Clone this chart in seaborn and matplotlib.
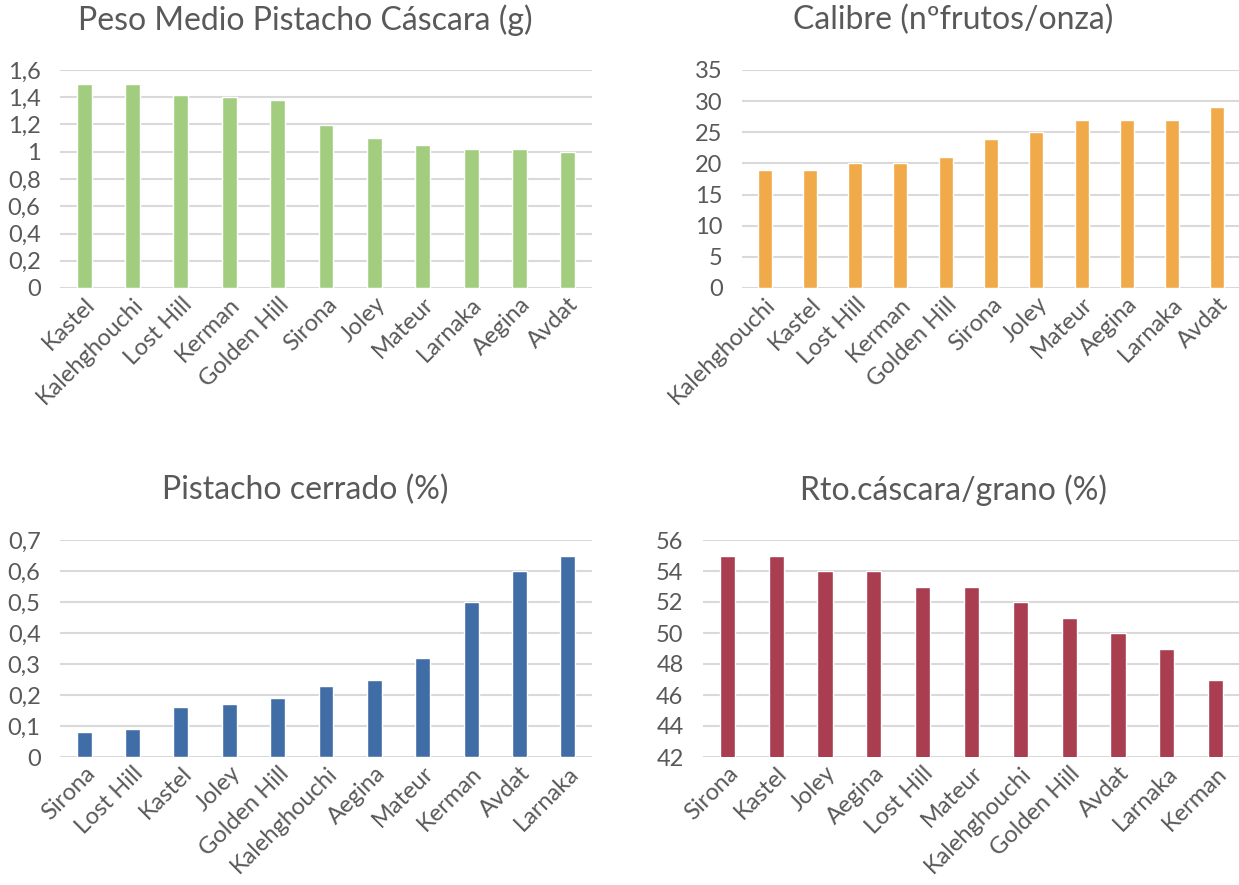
import pandas as pd
import seaborn as sns
import matplotlib.pyplot as plt
from matplotlib.ticker import FuncFormatter

# Peso medio pistacho cascara (g)
peso_cultivares = ['Kastel', 'Kalehghouchi', 'Lost Hill', 'Kerman', 'Golden Hill', 'Sirona',
                   'Joley', 'Mateur', 'Larnaka', 'Aegina', 'Avdat']
peso_valores = [1.50, 1.50, 1.42, 1.40, 1.38, 1.20, 1.10, 1.05, 1.02, 1.02, 1.00]

# Calibre (nº frutos/onza)
calibre_cultivares = ['Kalehghouchi', 'Kastel', 'Lost Hill', 'Kerman', 'Golden Hill', 'Sirona',
                      'Joley', 'Mateur', 'Aegina', 'Larnaka', 'Avdat']
calibre_valores = [19, 19, 20, 20, 21, 24, 25, 27, 27, 27, 29]

# Pistacho cerrado (%)
cerrado_cultivares = ['Sirona', 'Lost Hill', 'Kastel', 'Joley', 'Golden Hill', 'Kalehghouchi',
                      'Aegina', 'Mateur', 'Kerman', 'Avdat', 'Larnaka']
cerrado_valores = [0.08, 0.09, 0.16, 0.17, 0.19, 0.23, 0.25, 0.32, 0.50, 0.60, 0.65]

# Rto. cascara/grano (%)
rto_cultivares = ['Sirona', 'Kastel', 'Joley', 'Aegina', 'Lost Hill', 'Mateur', 'Kalehghouchi',
                  'Golden Hill', 'Avdat', 'Larnaka', 'Kerman']
rto_valores = [55, 55, 54, 54, 53, 53, 52, 51, 50, 49, 47]

sns.set_style('white')
plt.rcParams['font.family'] = ['Lato', 'DejaVu Sans']

GRIS = '#595959'
comma = FuncFormatter(lambda v, p: f'{v:g}'.replace('.', ','))

fig = plt.figure(figsize=(12.39, 8.85), dpi=100)
W, H = 1239, 885

def panel(rect, cats, vals, color, title, title_xy, ymin, ymax, step):
    x0, y0, x1, y1 = rect
    ax = fig.add_axes([x0 / W, 1 - y1 / H, (x1 - x0) / W, (y1 - y0) / H])
    df = pd.DataFrame({'cultivar': cats, 'valor': vals})
    sns.barplot(data=df, x='cultivar', y='valor', color=color, width=0.31,
                saturation=1, ax=ax, zorder=3)
    ax.set_xlim(-0.5, len(cats) - 0.5)
    ax.set_ylim(ymin, ymax)
    ticks = [ymin + i * step for i in range(int(round((ymax - ymin) / step)) + 1)]
    ax.set_yticks(ticks)
    ax.yaxis.set_major_formatter(comma)
    ax.grid(axis='y', color='#D9D9D9', linewidth=1.5, zorder=0)
    ax.set_axisbelow(True)
    for s in ax.spines.values():
        s.set_visible(False)
    ax.tick_params(axis='y', length=0, labelsize=17, colors=GRIS, pad=14)
    ax.tick_params(axis='x', length=0, labelsize=17, colors=GRIS, pad=4)
    plt.setp(ax.get_xticklabels(), rotation=45, ha='right', rotation_mode='anchor')
    ax.set_xlabel('')
    ax.set_ylabel('')
    fig.text(title_xy[0] / W, 1 - title_xy[1] / H, title, fontsize=23, color=GRIS,
             ha='center', va='center')
    return ax

panel((60, 70, 592, 288), peso_cultivares, peso_valores, '#A2CD7F',
      'Peso Medio Pistacho Cáscara (g)', (305, 20), 0, 1.6, 0.2)
panel((742, 70, 1240, 288), calibre_cultivares, calibre_valores, '#F0AA4A',
      'Calibre (nºfrutos/onza)', (953, 20), 0, 35, 5)
panel((60, 540, 592, 757), cerrado_cultivares, cerrado_valores, '#416DA6',
      'Pistacho cerrado (%)', (305, 490), 0, 0.7, 0.1)
panel((703, 540, 1240, 757), rto_cultivares, rto_valores, '#A93E50',
      'Rto.cáscara/grano (%)', (953, 490), 42, 56, 2)

fig.savefig('out.png', dpi=100, facecolor='white')
